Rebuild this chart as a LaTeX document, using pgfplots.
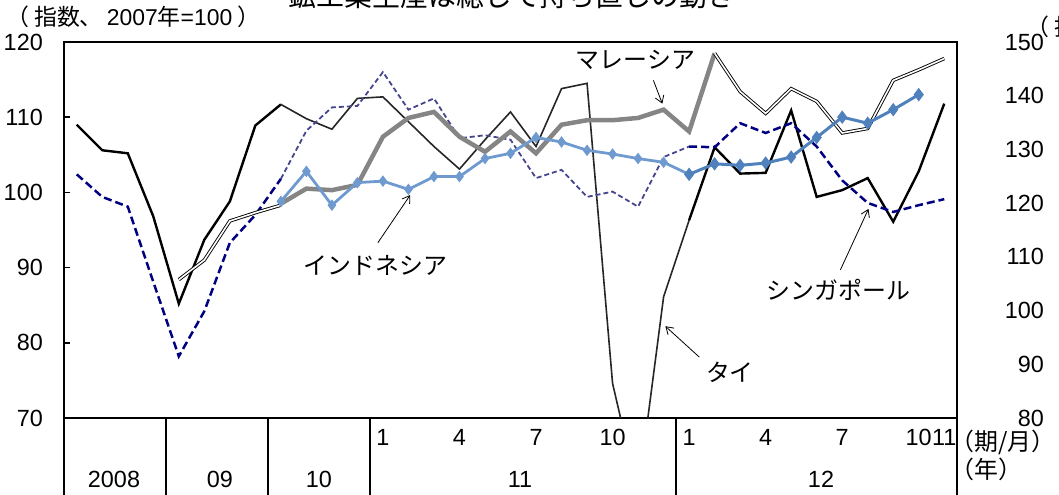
\documentclass[border=0pt]{standalone}
\usepackage{fontspec}
\setmainfont{Liberation Sans}
\newfontfamily\jp{Noto Sans CJK JP}
\usepackage{pgfplots}
\pgfplotsset{compat=1.18}
\usetikzlibrary{arrows.meta}
\definecolor{navy}{HTML}{000080}
\definecolor{sgfade}{HTML}{46468C}
\definecolor{mygray}{HTML}{858585}
\definecolor{idblue}{HTML}{4F81BD}
\definecolor{idfade}{HTML}{6E9AD0}
\newcommand{\nf}{\fontsize{23.5}{25}\selectfont}
\newcommand{\jf}{\fontsize{24}{26}\selectfont\jp}
\tikzset{annarrow/.style={-{Straight Barb[length=7bp,width=9bp]}, line width=0.8bp}}
\begin{document}
\begin{tikzpicture}[x=1bp,y=1bp]
\path[use as bounding box, clip] (0,0) rectangle (1059,495);
\begin{axis}[
  at={(64bp,77bp)}, anchor=south west, scale only axis,
  width=893bp, height=376bp,
  xmin=-0.5, xmax=34.5, ymin=70, ymax=120,
  axis line style={line width=2.2bp},
  ytick={70,80,90,100,110,120}, ytick pos=left,
  y tick style={line width=1.5bp, black}, major tick length=6bp, tick align=inside,
  xtick={12,15,18,21,24,27,30,33,34},
  xticklabels={1,4,7,10,1,4,7,10,11},
  x tick style={draw=none},
  xticklabel style={anchor=center, yshift=-19bp, inner sep=0pt},
  yticklabel style={anchor=east, inner sep=0pt, xshift=-21bp},
  ticklabel style={font=\nf},
  /pgf/number format/assume math mode=true,
]
% Thailand
\addplot[black, line width=2.4bp] coordinates {(0,109.0) (1,105.6) (2,105.2) (3,96.8) (4,85.2) (5,93.7) (6,98.8) (7,108.9) (8,111.7)};
\addplot[black!85, line width=1.6bp] coordinates {(8,111.7) (9,109.8) (10,108.4) (11,112.5) (12,112.7) (13,109.4) (14,106.1) (15,103.1) (16,107.0) (17,110.7) (18,106.1) (19,113.8) (20,114.5) (21,74.6) (22,60.0) (23,86.1) (24,96.3)};
\addplot[black, line width=2.4bp] coordinates {(24,96.3) (25,106.0) (26,102.5) (27,102.6) (28,110.9) (29,99.4) (30,100.3) (31,101.9) (32,96.1) (33,102.8) (34,111.8)};
% Singapore
\addplot[navy, line width=2.5bp, dash pattern=on 8bp off 4bp] coordinates {(0,102.4) (1,99.4) (2,98.1) (3,88.1) (4,78.2) (5,84.2) (6,93.3) (7,97.0) (8,101.8)};
\addplot[sgfade, line width=1.8bp, dash pattern=on 5bp off 3bp] coordinates {(8,101.8) (9,108.2) (10,111.3) (11,111.5) (12,116.0) (13,111.0) (14,112.5) (15,107.2) (16,107.6) (17,107.0) (18,101.9) (19,103.0) (20,99.4) (21,100.1) (22,98.1) (23,104.7) (24,106.1)};
\addplot[navy, line width=2.5bp, dash pattern=on 8bp off 4bp] coordinates {(24,106.1) (25,106.0) (26,109.2) (27,107.9) (28,109.2) (29,106.1) (30,101.6) (31,98.6) (32,97.4) (33,98.3) (34,99.1)};
% Malaysia
\addplot[black, line width=0.9bp, double=white, double distance=1.6bp] coordinates {(4,88.4) (5,91.0) (6,96.2) (7,97.3) (8,98.3)};
\addplot[mygray, line width=4.5bp] coordinates {(8,98.5) (9,100.5) (10,100.3) (11,101.0) (12,107.4) (13,109.9) (14,110.7) (15,107.4) (16,105.4) (17,108.1) (18,105.2) (19,109.0) (20,109.6) (21,109.6) (22,109.9) (23,111.0) (24,108.1) (25,118.5)};
\addplot[black, line width=0.9bp, double=white, double distance=1.6bp] coordinates {(25,118.5) (26,113.4) (27,110.5) (28,113.8) (29,112.1) (30,107.9) (31,108.5) (32,114.9) (33,116.3) (34,117.8)};
% Indonesia
\addplot[idfade, line width=2.8bp, mark=diamond*, mark size=3.5bp] coordinates {(8,98.8) (9,102.8) (10,98.3) (11,101.3) (12,101.5) (13,100.4) (14,102.1) (15,102.1) (16,104.5) (17,105.2) (18,107.3) (19,106.7) (20,105.6) (21,105.1) (22,104.5) (23,104.0) (24,102.4)};
\addplot[idblue, line width=3bp, mark=diamond*, mark size=4.3bp] coordinates {(24,102.4) (25,103.8) (26,103.6) (27,103.9) (28,104.7) (29,107.3) (30,110.0) (31,109.2) (32,111.0) (33,113.0)};
% annotations
\node[font=\jf] at (axis cs:21.9,117.6) {マレーシア};
\draw[annarrow] (axis cs:22.6,114.9) -- (axis cs:22.95,111.8);
\node[font=\jf] at (axis cs:11.7,90.3) {インドネシア};
\draw[annarrow] (axis cs:11.8,93.3) -- (axis cs:13.07,99.65);
\node[font=\jf] at (axis cs:25.6,76.1) {タイ};
\draw[annarrow] (axis cs:24.4,78.1) -- (axis cs:23.07,82.2);
\node[font=\jf] at (axis cs:29.85,87.0) {シンガポール};
\draw[annarrow] (axis cs:29.93,89.7) -- (axis cs:31.03,97.8);
\end{axis}
\begin{axis}[
  at={(64bp,77bp)}, anchor=south west, scale only axis,
  width=893bp, height=376bp,
  xmin=-0.5, xmax=34.5, ymin=80, ymax=150,
  hide x axis, axis y line*=right, axis line style={draw=none},
  ytick={80,90,100,110,120,130,140,150}, major tick length=0pt, y tick style={draw=none},
  yticklabel style={anchor=east, inner sep=0pt, xshift=87bp, font=\nf},
  /pgf/number format/assume math mode=true,
]
\end{axis}
% table below axis
\foreach \xx in {64,166,268,370,676,957} {\draw[line width=2bp] (\xx,77) -- (\xx,0);}
\node[font=\nf] at (114,16) {2008};
\node[font=\nf] at (220,16) {09};
\node[font=\nf] at (319,16) {10};
\node[font=\nf] at (520,16) {11};
\node[font=\nf] at (821,16) {12};
\node[font=\jf, anchor=west, inner sep=0pt] at (950,53) {（期/月）};
\node[font=\jf, anchor=west, inner sep=0pt] at (950,26) {（年）};
% unit labels and title
\node[anchor=west, inner sep=0pt, font=\fontsize{23}{25}\selectfont] at (6,478) {{\jp （}\hspace{5bp}{\jp 指数、}\hspace{4bp}2007{\jp 年}=100\hspace{5bp}{\jp ）}};
\node[anchor=west, inner sep=0pt, font=\fontsize{23}{25}\selectfont] at (1026,468) {{\jp （}\hspace{5bp}{\jp 指数、}\hspace{4bp}2007{\jp 年}=100\hspace{5bp}{\jp ）}};
\node[anchor=base, inner sep=0pt, font=\fontsize{28}{30}\selectfont\jp] at (512,488) {鉱工業生産は総じて持ち直しの動き};
\end{tikzpicture}
\end{document}
